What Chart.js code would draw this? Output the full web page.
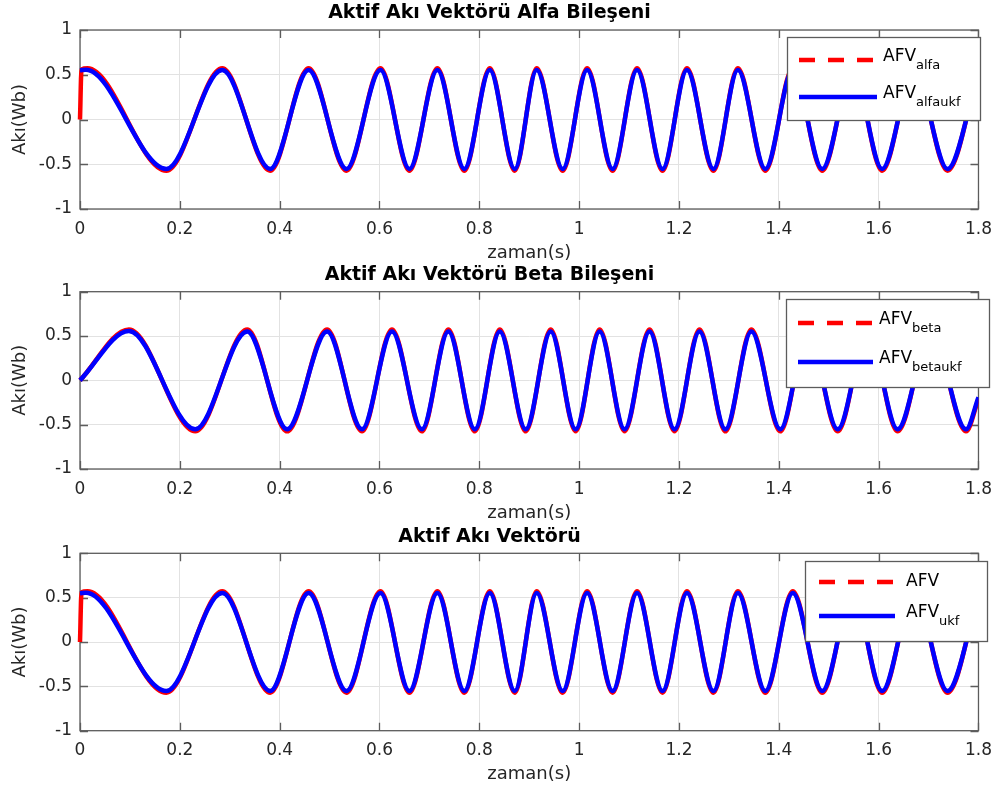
<!DOCTYPE html>
<html>
<head>
<meta charset="utf-8">
<script src="https://cdn.jsdelivr.net/npm/chart.js@4/dist/chart.umd.min.js"></script>
<style>
body { margin: 0; background: #fff; }
canvas.panel { position: absolute; left: 0; }
</style>
</head>
<body>
<canvas id="c1" class="panel" width="1002" height="262" style="top:0px"></canvas>
<canvas id="c2" class="panel" width="1002" height="260" style="top:262px"></canvas>
<canvas id="c3" class="panel" width="1002" height="270" style="top:522px"></canvas>
<script>
// axis ticks
const xTicks = [0, 0.2, 0.4, 0.6, 0.8, 1, 1.2, 1.4, 1.6, 1.8];
const xTickLabels = ['0', '0.2', '0.4', '0.6', '0.8', '1', '1.2', '1.4', '1.6', '1.8'];
const yTicks = [-1, -0.5, 0, 0.5, 1];
const yTickLabels = ['-1', '-0.5', '0', '0.5', '1'];

// values: start, peaks/troughs, end (time in s, flux in Wb)
const alfaRefT = [0, 0.003, 0.015, 0.173, 0.285, 0.381, 0.458, 0.534, 0.602, 0.660, 0.716, 0.770, 0.821, 0.871, 0.915, 0.967, 1.016, 1.067, 1.116, 1.167, 1.216, 1.269, 1.318, 1.373, 1.428, 1.487, 1.548, 1.607, 1.671, 1.738, 1.8];
const alfaRefV = [0, 0.56, 0.572, -0.572, 0.572, -0.572, 0.572, -0.572, 0.572, -0.572, 0.572, -0.572, 0.572, -0.572, 0.572, -0.572, 0.572, -0.572, 0.572, -0.572, 0.572, -0.572, 0.572, -0.572, 0.572, -0.572, 0.572, -0.572, 0.572, -0.572, 0.55];
const alfaUkfT = [0, 0.012, 0.173, 0.285, 0.381, 0.458, 0.534, 0.602, 0.660, 0.716, 0.770, 0.821, 0.871, 0.915, 0.967, 1.016, 1.067, 1.116, 1.167, 1.216, 1.269, 1.318, 1.373, 1.428, 1.487, 1.548, 1.607, 1.671, 1.738, 1.8];
const alfaUkfV = [0.55, 0.556, -0.552, 0.552, -0.552, 0.552, -0.552, 0.552, -0.552, 0.552, -0.552, 0.552, -0.552, 0.552, -0.552, 0.552, -0.552, 0.552, -0.552, 0.552, -0.552, 0.552, -0.552, 0.552, -0.552, 0.552, -0.552, 0.552, -0.552, 0.53];

const betaT = [0, 0.098, 0.231, 0.335, 0.415, 0.495, 0.565, 0.625, 0.685, 0.738, 0.791, 0.841, 0.893, 0.943, 0.993, 1.041, 1.091, 1.141, 1.191, 1.241, 1.293, 1.345, 1.403, 1.458, 1.518, 1.578, 1.638, 1.705, 1.775, 1.8];
const betaRefV = [0, 0.575, -0.575, 0.575, -0.575, 0.575, -0.575, 0.575, -0.575, 0.575, -0.575, 0.575, -0.575, 0.575, -0.575, 0.575, -0.575, 0.575, -0.575, 0.575, -0.575, 0.575, -0.575, 0.575, -0.575, 0.575, -0.575, 0.575, -0.575, -0.21];
const betaUkfV = [0, 0.558, -0.552, 0.552, -0.552, 0.552, -0.552, 0.552, -0.552, 0.552, -0.552, 0.552, -0.552, 0.552, -0.552, 0.552, -0.552, 0.552, -0.552, 0.552, -0.552, 0.552, -0.552, 0.552, -0.552, 0.552, -0.552, 0.552, -0.552, -0.19];

const afvRefT = [0, 0.003, 0.015, 0.173, 0.285, 0.381, 0.458, 0.534, 0.602, 0.660, 0.716, 0.770, 0.821, 0.871, 0.915, 0.967, 1.016, 1.067, 1.116, 1.167, 1.216, 1.269, 1.318, 1.373, 1.428, 1.487, 1.548, 1.607, 1.671, 1.738, 1.8];
const afvRefV = [0, 0.56, 0.572, -0.572, 0.572, -0.572, 0.572, -0.572, 0.572, -0.572, 0.572, -0.572, 0.572, -0.572, 0.572, -0.572, 0.572, -0.572, 0.572, -0.572, 0.572, -0.572, 0.572, -0.572, 0.572, -0.572, 0.572, -0.572, 0.572, -0.572, 0.55];
const afvUkfT = [0, 0.012, 0.173, 0.285, 0.381, 0.458, 0.534, 0.602, 0.660, 0.716, 0.770, 0.821, 0.871, 0.915, 0.967, 1.016, 1.067, 1.116, 1.167, 1.216, 1.269, 1.318, 1.373, 1.428, 1.487, 1.548, 1.607, 1.671, 1.738, 1.8];
const afvUkfV = [0.55, 0.556, -0.552, 0.552, -0.552, 0.552, -0.552, 0.552, -0.552, 0.552, -0.552, 0.552, -0.552, 0.552, -0.552, 0.552, -0.552, 0.552, -0.552, 0.552, -0.552, 0.552, -0.552, 0.552, -0.552, 0.552, -0.552, 0.552, -0.552, 0.53];

const FONT = '"DejaVu Sans", sans-serif';
const TEXT = '#262626';
const BOX = '#5c5c5c';

function toPoints(ts, vs) {
    return ts.map((t, i) => ({ x: t, y: vs[i] }));
}

// axes box with inward ticks on all four sides (MATLAB look)
const framePlugin = {
    id: 'frame',
    beforeDatasetsDraw(chart) {
        const { ctx, chartArea: a, scales } = chart;
        ctx.save();
        ctx.strokeStyle = BOX;
        ctx.lineWidth = 1.3;
        ctx.beginPath();
        xTicks.forEach(v => {
            const px = Math.round(scales.x.getPixelForValue(v)) + 0.5;
            ctx.moveTo(px, a.bottom); ctx.lineTo(px, a.bottom - 8);
            ctx.moveTo(px, a.top); ctx.lineTo(px, a.top + 8);
        });
        yTicks.forEach(v => {
            const py = Math.round(scales.y.getPixelForValue(v)) + 0.5;
            ctx.moveTo(a.left, py); ctx.lineTo(a.left + 8, py);
            ctx.moveTo(a.right, py); ctx.lineTo(a.right - 8, py);
        });
        ctx.stroke();
        ctx.strokeRect(a.left, a.top, a.right - a.left, a.bottom - a.top);
        ctx.restore();
    }
};

// boxed legend inside the plot, with subscripts
function makeLegend(cfg) {
    return {
        id: 'boxLegend',
        afterDatasetsDraw(chart) {
            const ctx = chart.ctx;
            const [x1, y1, x2, y2] = cfg.box;
            ctx.save();
            ctx.fillStyle = '#fff';
            ctx.fillRect(x1, y1, x2 - x1 + 1, y2 - y1 + 1);
            ctx.strokeStyle = BOX;
            ctx.lineWidth = 1.3;
            ctx.strokeRect(x1 + 0.5, y1 + 0.5, x2 - x1, y2 - y1);
            cfg.rows.forEach(r => {
                ctx.beginPath();
                ctx.strokeStyle = r.color;
                ctx.lineWidth = 4.5;
                ctx.setLineDash(r.dash);
                ctx.moveTo(cfg.lineX[0], r.y);
                ctx.lineTo(cfg.lineX[1], r.y);
                ctx.stroke();
                ctx.setLineDash([]);
                ctx.fillStyle = '#000';
                ctx.textBaseline = 'middle';
                ctx.font = '17px ' + FONT;
                ctx.fillText(r.main, cfg.textX, r.sub ? r.y - 3 : r.y);
                if (r.sub) {
                    const w = ctx.measureText(r.main).width;
                    ctx.font = '13px ' + FONT;
                    ctx.fillText(r.sub, cfg.textX + w, r.y + 6);
                }
            });
            ctx.restore();
        }
    };
}

function makePanel(id, title, lay, series, legendCfg) {
    const ctx = document.getElementById(id).getContext('2d');
    const lh = 19 * 1.2;
    return new Chart(ctx, {
        type: 'line',
        data: {
            // first dataset is painted last, so the filtered (blue) curve sits on top
            datasets: series.map(s => ({
                data: toPoints(s.t, s.v),
                borderColor: s.color,
                borderWidth: 4.5,
                pointRadius: 0,
                cubicInterpolationMode: 'monotone',
                clip: { left: 6, top: 6, right: 0, bottom: 6 }
            }))
        },
        options: {
            responsive: false,
            animation: false,
            devicePixelRatio: 1,
            layout: { padding: { left: 0, right: 23, top: 0, bottom: lay.padBottom } },
            plugins: {
                legend: { display: false },
                tooltip: { enabled: false },
                title: {
                    display: true,
                    text: title,
                    color: '#000',
                    font: { family: FONT, size: 19, weight: 'bold', lineHeight: 1.2 },
                    padding: { top: lay.titleY - lh / 2, bottom: lay.plotTop - lay.titleY - lh / 2 }
                }
            },
            scales: {
                x: {
                    type: 'linear',
                    min: 0,
                    max: 1.8,
                    afterBuildTicks: s => { s.ticks = xTicks.map(v => ({ value: v })); },
                    afterFit: s => { s.height = 53; },
                    ticks: {
                        color: TEXT,
                        padding: 10,
                        maxRotation: 0,
                        font: { family: FONT, size: 17 },
                        callback: (v, i) => xTickLabels[i]
                    },
                    grid: { color: '#e2e2e2', drawTicks: false },
                    border: { display: false },
                    title: {
                        display: true,
                        text: 'zaman(s)',
                        color: TEXT,
                        font: { family: FONT, size: 18, lineHeight: 1 },
                        padding: { top: 0, bottom: 0 }
                    }
                },
                y: {
                    min: -1,
                    max: 1,
                    afterBuildTicks: s => { s.ticks = yTicks.map(v => ({ value: v })); },
                    afterFit: s => { s.width = 80; },
                    ticks: {
                        color: TEXT,
                        padding: 8,
                        font: { family: FONT, size: 17 },
                        callback: (v, i) => yTickLabels[i]
                    },
                    grid: { color: '#e2e2e2', drawTicks: false },
                    border: { display: false },
                    title: {
                        display: true,
                        text: 'Akı(Wb)',
                        color: TEXT,
                        font: { family: FONT, size: 18, lineHeight: 1 },
                        padding: { top: 11, bottom: 0 }
                    }
                }
            }
        },
        plugins: [framePlugin, makeLegend(legendCfg)]
    });
}

makePanel('c1', 'Aktif Akı Vektörü Alfa Bileşeni',
    { titleY: 13, plotTop: 30, padBottom: 0 },
    [
        { t: alfaUkfT, v: alfaUkfV, color: '#0000ff' },
        { t: alfaRefT, v: alfaRefV, color: '#ff0000' }
    ],
    {
        box: [787, 37, 980, 120], lineX: [799, 877], textX: 883,
        rows: [
            { y: 60, color: '#ff0000', dash: [16, 13], main: 'AFV', sub: 'alfa' },
            { y: 97, color: '#0000ff', dash: [], main: 'AFV', sub: 'alfaukf' }
        ]
    });

makePanel('c2', 'Aktif Akı Vektörü Beta Bileşeni',
    { titleY: 13, plotTop: 29.7, padBottom: 0 },
    [
        { t: betaT, v: betaUkfV, color: '#0000ff' },
        { t: betaT, v: betaRefV, color: '#ff0000' }
    ],
    {
        box: [786, 37, 989, 125], lineX: [798, 873], textX: 879,
        rows: [
            { y: 61, color: '#ff0000', dash: [16, 13], main: 'AFV', sub: 'beta' },
            { y: 100, color: '#0000ff', dash: [], main: 'AFV', sub: 'betaukf' }
        ]
    });

makePanel('c3', 'Aktif Akı Vektörü',
    { titleY: 15, plotTop: 31.3, padBottom: 8.3 },
    [
        { t: afvUkfT, v: afvUkfV, color: '#0000ff' },
        { t: afvRefT, v: afvRefV, color: '#ff0000' }
    ],
    {
        box: [805, 39, 987, 119], lineX: [819, 895], textX: 906,
        rows: [
            { y: 60, color: '#ff0000', dash: [16, 13], main: 'AFV', sub: '' },
            { y: 94, color: '#0000ff', dash: [], main: 'AFV', sub: 'ukf' }
        ]
    });
</script>
</body>
</html>
